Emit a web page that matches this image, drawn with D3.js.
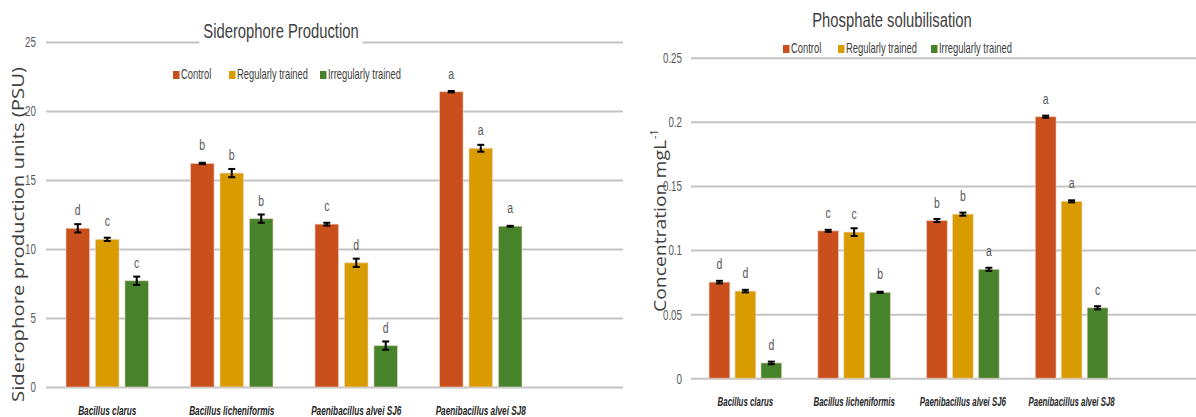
<!DOCTYPE html>
<html><head><meta charset="utf-8">
<script src="https://cdn.jsdelivr.net/npm/d3@7"></script>
<style>
html,body{margin:0;padding:0;background:#fff;}
svg{display:block;}
</style></head>
<body><svg id="c" width="1196" height="417"></svg>
<script>
const categories = ["Bacillus clarus","Bacillus licheniformis","Paenibacillus alvei SJ6","Paenibacillus alvei SJ8"];
const series = ["Control","Regularly trained","Irregularly trained"];
const colors = ["#C94F1C","#D99C00","#47832A"];

// Siderophore production (PSU)
const sidValues = [[11.5,10.7,7.7],[16.2,15.5,12.2],[11.8,9.0,3.0],[21.4,17.3,11.65]];
const sidErrors = [[0.3,0.12,0.3],[0.05,0.3,0.3],[0.1,0.3,0.3],[0.05,0.25,0.03]];
const sidLetters = [["d","c","c"],["b","b","b"],["c","d","d"],["a","a","a"]];
const sidTicks = [0,5,10,15,20,25];

// Phosphate solubilisation (mg/L)
const phoValues = [[0.075,0.068,0.012],[0.115,0.114,0.067],[0.123,0.128,0.085],[0.204,0.138,0.055]];
const phoErrors = [[0.001,0.001,0.001],[0.0008,0.003,0.0005],[0.0012,0.0012,0.0012],[0.0008,0.0008,0.0012]];
const phoLetters = [["d","d","d"],["c","c","b"],["b","b","a"],["a","a","c"]];
const phoTicks = [0,0.05,0.1,0.15,0.2,0.25];

const NARROW = "'Liberation Sans',Arial,sans-serif";
const WIDE = "'Open Sans','DejaVu Sans',sans-serif";
const svg = d3.select("#c");
svg.append("rect").attr("width",1196).attr("height",417).attr("fill","#fff");

// condensed text helper (horizontal squeeze to mimic a Calibri-like face)
function ntext(parent, x, y, str, o){
  const g = parent.append("g").attr("transform",`translate(${x},${y}) scale(${o.sx||0.7},1)`);
  const t = g.append("text").attr("x",0).attr("y",0)
    .attr("text-anchor",o.anchor||"start")
    .style("font-family",NARROW)
    .attr("font-size",o.size||14)
    .attr("font-weight",o.weight||"normal")
    .attr("font-style",o.style||"normal")
    .attr("fill",o.fill||"#595959").text(str);
  return {g,t,sx:o.sx||0.7};
}

function drawChart(o){
  const g = svg.append("g");
  const y = d3.scaleLinear().domain([0,o.ymax]).range([o.y0,o.y1]);
  const x0 = d3.scaleBand().domain(categories).range(o.xr).padding(0);
  const bw = x0.bandwidth();
  const x1 = d3.scaleBand().domain(series).range([bw*o.inner, bw*(1-o.inner)]).paddingInner(0.2).paddingOuter(0);
  // grid + tick labels
  const yAxis = d3.axisLeft(y).tickValues(o.ticks).tickSize(-(o.gx1-o.gx0)).tickFormat(d=>String(d));
  const ga = g.append("g").attr("transform",`translate(${o.gx0},0)`).call(yAxis);
  ga.select(".domain").remove();
  ga.selectAll(".tick line").attr("stroke","#c4c4c4").attr("stroke-width",2);
  ga.selectAll(".tick text").attr("x",0).attr("dy","0.35em")
    .attr("transform",`translate(${-o.tickPad},0) scale(0.7,1)`)
    .style("font-family",NARROW).attr("font-size",14).attr("fill","#5a5a5a");
  // bars
  const grp = g.selectAll(".grp").data(categories).join("g").attr("transform",d=>`translate(${x0(d)},0)`);
  grp.each(function(cat,ci){
    const gg = d3.select(this);
    series.forEach((s,si)=>{
      const v = o.values[ci][si], e = o.errors[ci][si];
      const bx = x1(s), w = x1.bandwidth();
      gg.append("rect").attr("x",bx).attr("y",y(v)).attr("width",w).attr("height",y(0)-y(v))
        .attr("fill",colors[si]).attr("stroke","#f1d9cc").attr("stroke-opacity",0.6).attr("stroke-width",1);
      const cx = bx+w/2;
      gg.append("line").attr("x1",cx).attr("x2",cx).attr("y1",y(v+e)).attr("y2",y(v-e)).attr("stroke","#000").attr("stroke-width",2);
      [v+e,v-e].forEach(t=>gg.append("line").attr("x1",cx-3.5).attr("x2",cx+3.5).attr("y1",y(t)).attr("y2",y(t)).attr("stroke","#000").attr("stroke-width",2));
      ntext(gg, cx, y(v)-13, o.letters[ci][si], {anchor:"middle", size:15, sx:0.7, fill:"#595959"});
    });
    ntext(gg, bw/2, o.xlabY, cat, {anchor:"middle", size:12.5, sx:o.labSx, weight:"bold", style:"italic", fill:"#262626"});
  });
  // title with white backing
  const T = ntext(g, o.titleX, o.titleY, o.title, {anchor:"middle", size:20, sx:0.74, fill:"#404040"});
  const bb = T.t.node().getBBox();
  g.insert("rect",()=>T.g.node()).attr("x",o.titleX+bb.x*T.sx-4).attr("y",o.titleY+bb.y)
    .attr("width",bb.width*T.sx+8).attr("height",bb.height+2).attr("fill","#fff");
  // legend
  series.forEach((s,i)=>{
    const lx = o.legX[i];
    g.append("rect").attr("x",lx-3).attr("y",o.legY-9).attr("width",o.legW[i]).attr("height",16).attr("fill","#fff");
    g.append("rect").attr("x",lx).attr("y",o.legY-5).attr("width",6.5).attr("height",8).attr("fill",colors[i]);
    ntext(g, lx+8, o.legY+3, s, {size:14, sx:0.67, fill:"#404040"});
  });
  // y title (rotated, starting at the bottom)
  const yg = g.append("g").attr("transform",`translate(${o.ytX},${o.ytStart}) rotate(-90)`);
  yg.append("text").attr("x",0).attr("y",0).attr("text-anchor","start")
    .style("font-family",WIDE).attr("font-size",16).attr("fill","#404040")
    .attr("textLength",o.ytLen).attr("lengthAdjust","spacingAndGlyphs").text(o.ytitle);
  if(o.ysup){
    yg.append("text").attr("x",o.ytLen+1).attr("y",-8).style("font-family",WIDE)
      .attr("font-size",10.5).attr("fill","#404040").text(o.ysup);
  }
}

drawChart({ymax:25,y0:387,y1:42,xr:[45,543],inner:0.1687,gx0:46,gx1:623,ticks:sidTicks,tickPad:10,
  values:sidValues,errors:sidErrors,letters:sidLetters,xlabY:415,labSx:0.66,title:"Siderophore Production",titleX:281,titleY:38,
  legX:[173,229,320],legW:[46,84,94],legY:76,ytitle:"Siderophore production units (PSU)",ytX:24,ytStart:402,ytLen:335});

svg.append("rect").attr("x",624).attr("y",0).attr("width",572).attr("height",417).attr("fill","#fff");

drawChart({ymax:0.25,y0:378.3,y1:57.7,xr:[691,1126],inner:0.166,gx0:691,gx1:1196,ticks:phoTicks,tickPad:9,
  values:phoValues,errors:phoErrors,letters:phoLetters,xlabY:406,labSx:0.63,title:"Phosphate solubilisation",titleX:892,titleY:27,
  legX:[783,838,931],legW:[46,88,94],legY:50,ytitle:"Concentration mgL",ysup:"-1",ytX:666,ytStart:312,ytLen:172});
</script></body></html>
